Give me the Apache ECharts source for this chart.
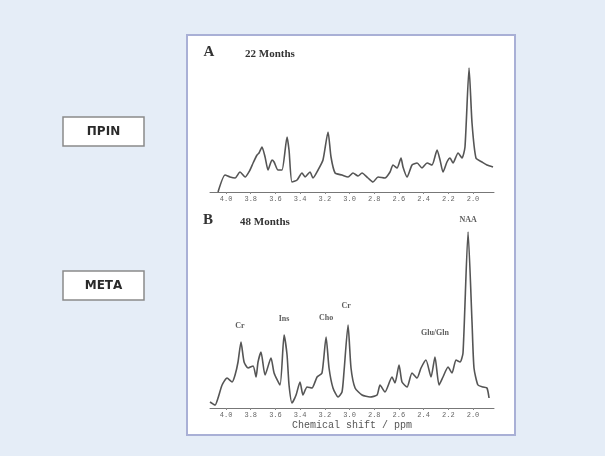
<!DOCTYPE html>
<html>
<head>
<meta charset="utf-8">
<script src="https://cdn.jsdelivr.net/npm/echarts@6/dist/echarts.min.js"></script>
<style>
html,body{margin:0;padding:0;background:#e5edf7;}
#c{width:605px;height:456px;}
</style>
</head>
<body>
<div id="c"></div>
<script>
// Tick labels (ppm)
var ppmTicks = [2.0, 2.2, 2.4, 2.6, 2.8, 3.0, 3.2, 3.4, 3.6, 3.8, 4.0];

// Spectrum A (22 months): chemical shift (ppm) and intensity (a.u.)
var ppmA = [4.065,4.008,3.968,3.927,3.887,3.846,3.806,3.781,3.749,3.733,3.709,3.684,3.660,3.628,3.611,3.579,3.547,3.506,3.490,3.466,3.425,3.385,3.360,3.320,3.296,3.255,3.215,3.174,3.150,3.117,3.061,3.012,2.972,2.931,2.899,2.850,2.810,2.769,2.713,2.672,2.648,2.615,2.583,2.567,2.534,2.494,2.453,2.413,2.372,2.332,2.291,2.267,2.243,2.211,2.186,2.162,2.121,2.089,2.065,2.032,2.008,1.976,1.927,1.887,1.838];
var intA = [0,17,15,14,20,15,22,29,37,39,45,35,22,32,30,22,22,55,42,10,12,19,15,20,14,22,32,60,35,19,17,15,19,16,19,14,10,15,14,20,27,24,34,25,15,27,29,24,29,27,42,32,20,30,34,29,39,34,45,124,69,34,30,27,25];

// Spectrum B (48 months)
var ppmB = [4.130,4.089,4.065,4.032,3.992,3.951,3.927,3.903,3.879,3.854,3.822,3.781,3.757,3.741,3.717,3.684,3.636,3.611,3.563,3.530,3.506,3.490,3.466,3.433,3.401,3.377,3.344,3.304,3.263,3.223,3.190,3.166,3.134,3.093,3.061,3.045,3.012,2.988,2.955,2.899,2.834,2.777,2.753,2.713,2.656,2.632,2.599,2.575,2.534,2.494,2.453,2.421,2.381,2.340,2.308,2.275,2.243,2.202,2.170,2.138,2.105,2.081,2.040,2.008,1.992,1.960,1.919,1.887,1.870];
var intB = [6,3,10,23,30,26,33,46,66,46,40,42,31,46,56,33,50,35,23,73,53,23,5,13,26,13,21,20,31,35,71,40,20,11,16,36,83,40,20,13,11,13,23,16,31,25,43,26,21,35,30,40,48,31,51,23,31,41,35,48,46,55,176,86,40,23,21,20,10];

// Peak annotations in B: [ppm, intensity, label]
var labelsB = [
  [3.887, 82, 'Cr'],
  [3.530, 89, 'Ins'],
  [3.190, 90, 'Cho'],
  [3.028, 102, 'Cr'],
  [2.308, 75, 'Glu/Gln'],
  [2.040, 188, 'NAA']
];

var chart = echarts.init(document.getElementById('c'), null, {renderer: 'canvas'});

var monoFont = 'Liberation Mono, DejaVu Sans Mono, monospace';

function xAx(idx, withName) {
  var a = {
    type: 'value', gridIndex: idx, min: 1.83, max: 4.13, inverse: true,
    axisLine: {show: true, lineStyle: {color: '#777', width: 1}},
    axisTick: {show: true, customValues: ppmTicks, length: 2, lineStyle: {color: '#888'}},
    axisLabel: {
      customValues: ppmTicks,
      formatter: function (v) { return v.toFixed(1); },
      fontFamily: monoFont, fontSize: 7, color: '#666', margin: 4
    },
    splitLine: {show: false}
  };
  if (withName) {
    a.name = 'Chemical shift / ppm';
    a.nameLocation = 'middle';
    a.nameGap = 12;
    a.nameTextStyle = {fontFamily: monoFont, fontSize: 10, color: '#555'};
  }
  return a;
}

chart.setOption({
  backgroundColor: '#e5edf7',
  animation: false,
  graphic: [
    {type: 'rect', shape: {x: 187, y: 35, width: 328, height: 400}, style: {fill: '#ffffff', stroke: '#a9b0d6', lineWidth: 2}, z: -10},
    {type: 'rect', shape: {x: 63, y: 117, width: 81, height: 29}, style: {fill: '#ffffff', stroke: '#8a8a8a', lineWidth: 1.5}},
    {type: 'text', x: 103.5, y: 131.5, style: {text: 'ΠΡΙΝ', fontFamily: 'DejaVu Sans, sans-serif', fontWeight: 'bold', fontSize: 12, fill: '#2a2a2a', align: 'center', verticalAlign: 'middle'}},
    {type: 'rect', shape: {x: 63, y: 271, width: 81, height: 29}, style: {fill: '#ffffff', stroke: '#8a8a8a', lineWidth: 1.5}},
    {type: 'text', x: 103.5, y: 285.5, style: {text: 'ΜΕΤΑ', fontFamily: 'DejaVu Sans, sans-serif', fontWeight: 'bold', fontSize: 12, fill: '#2a2a2a', align: 'center', verticalAlign: 'middle'}},
    {type: 'text', x: 209, y: 52, style: {text: 'A', fontFamily: 'Liberation Serif, serif', fontWeight: 'bold', fontSize: 15, fill: '#333', align: 'center', verticalAlign: 'middle'}},
    {type: 'text', x: 245, y: 54, style: {text: '22 Months', fontFamily: 'Liberation Serif, serif', fontWeight: 'bold', fontSize: 11, fill: '#333', align: 'left', verticalAlign: 'middle'}},
    {type: 'text', x: 208, y: 220, style: {text: 'B', fontFamily: 'Liberation Serif, serif', fontWeight: 'bold', fontSize: 15, fill: '#333', align: 'center', verticalAlign: 'middle'}},
    {type: 'text', x: 240, y: 222, style: {text: '48 Months', fontFamily: 'Liberation Serif, serif', fontWeight: 'bold', fontSize: 11, fill: '#333', align: 'left', verticalAlign: 'middle'}}
  ],
  grid: [
    {left: 210, width: 284, top: 60, height: 132},
    {left: 210, width: 284, top: 225, height: 183}
  ],
  xAxis: [xAx(0, false), xAx(1, true)],
  yAxis: [
    {type: 'value', gridIndex: 0, min: 0, max: 132, show: false},
    {type: 'value', gridIndex: 1, min: 0, max: 183, show: false}
  ],
  series: [
    {
      type: 'line', xAxisIndex: 0, yAxisIndex: 0, showSymbol: false, smooth: 0.2,
      lineStyle: {color: '#555', width: 1.6},
      data: ppmA.map(function (p, i) { return [p, intA[i]]; })
    },
    {
      type: 'line', xAxisIndex: 1, yAxisIndex: 1, showSymbol: false, smooth: 0.2,
      lineStyle: {color: '#555', width: 1.6},
      data: ppmB.map(function (p, i) { return [p, intB[i]]; })
    },
    {
      type: 'scatter', xAxisIndex: 1, yAxisIndex: 1, symbolSize: 0, silent: true, clip: false,
      data: labelsB.map(function (d) { return {value: [d[0], d[1]], name: d[2]}; }),
      label: {show: true, position: 'inside', formatter: function (p) { return p.name; },
        fontFamily: 'Liberation Serif, serif', fontWeight: 'bold', fontSize: 8, color: '#333'}
    }
  ]
});
</script>
</body>
</html>
